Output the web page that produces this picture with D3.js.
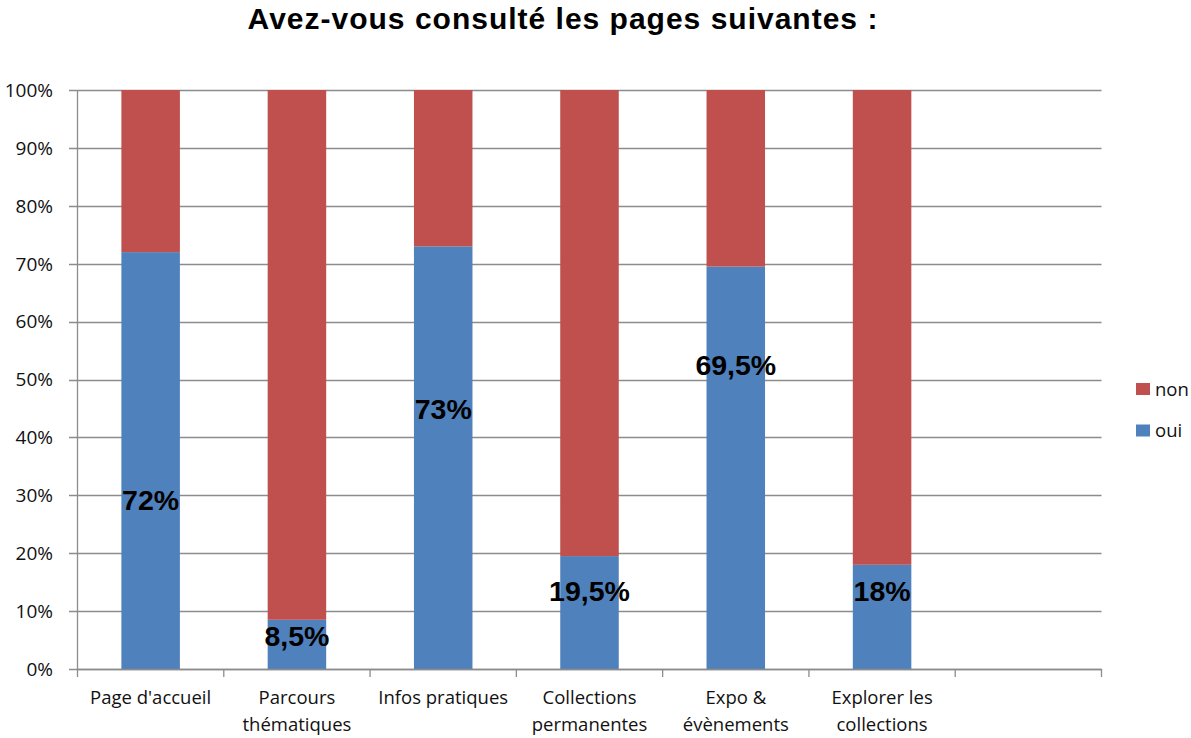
<!DOCTYPE html>
<html><head><meta charset="utf-8">
<script src="https://cdn.jsdelivr.net/npm/d3@7"></script>
<style>body{margin:0;background:#fff;} svg{display:block;}</style>
</head><body>
<svg id="chart" width="1191" height="738"></svg>
<script>
const title = "Avez-vous consulté les pages suivantes :";
const categories = [
  ["Page d'accueil"],
  ["Parcours", "thématiques"],
  ["Infos pratiques"],
  ["Collections", "permanentes"],
  ["Expo &", "évènements"],
  ["Explorer les", "collections"],
  [""]
];
const oui = [72, 8.5, 73, 19.5, 69.5, 18, null];
const non = oui.map(v => v == null ? null : 100 - v);
const labels = ["72%", "8,5%", "73%", "19,5%", "69,5%", "18%", null];
const labelAt = [29.2, 5.7, 45, 13.6, 52.5, 13.6, null]; // label centre, in % units
const yTicks = [0,10,20,30,40,50,60,70,80,90,100];
const seriesNames = ["non", "oui"];
const colors = {oui: "#4F81BD", non: "#C0504D"};

const svg = d3.select("#chart");
const pL = 77.5, pR = 1101.5, pT = 90, pB = 669;
const x = d3.scaleBand().domain(d3.range(categories.length)).range([pL, pR]).paddingInner(0).paddingOuter(0);
const y = d3.scaleLinear().domain([0, 100]).range([pB, pT]);
const barW = x.bandwidth() * 0.4;
const axisFont = "Open Sans, sans-serif";

// title
svg.append("text").attr("x", 563).attr("y", 29).attr("text-anchor", "middle")
  .style("font-family", "Liberation Sans, Arial, sans-serif").style("font-weight", "bold").style("font-size", "30px")
  .style("letter-spacing", "1px")
  .text(title);

// gridlines
svg.append("g").selectAll("line").data(yTicks).join("line")
  .attr("x1", 69).attr("x2", pR).attr("y1", d => Math.round(y(d)) + 0.5).attr("y2", d => Math.round(y(d)) + 0.5)
  .attr("stroke", "#8c8c8c").attr("stroke-width", 1.3);

// y labels
svg.append("g").selectAll("text").data(yTicks).join("text")
  .attr("x", 53).attr("y", d => y(d)).attr("dy", "0.36em").attr("text-anchor", "end")
  .style("font-family", axisFont).style("font-size", "19px").attr("fill", "#111")
  .text(d => d + "%");

// stacked data
const data = categories.map((c, i) => ({i, oui: oui[i], non: non[i]})).filter(d => d.oui != null);
const stack = d3.stack().keys(["oui", "non"])(data);
svg.append("g").selectAll("g").data(stack).join("g").attr("fill", s => colors[s.key])
  .selectAll("rect").data(s => s).join("rect")
  .attr("x", d => x(d.data.i) + (x.bandwidth() - barW) / 2)
  .attr("width", barW)
  .attr("y", d => y(d[1]))
  .attr("height", d => y(d[0]) - y(d[1]));

// y axis line
svg.append("line").attr("x1", pL).attr("x2", pL).attr("y1", pT).attr("y2", pB)
  .attr("stroke", "#8c8c8c").attr("stroke-width", 1.3);
// x axis line + ticks
svg.append("line").attr("x1", pL).attr("x2", pR).attr("y1", pB + 0.5).attr("y2", pB + 0.5)
  .attr("stroke", "#8c8c8c").attr("stroke-width", 1.3);
const xTickPos = d3.range(categories.length + 1).map(i => i < categories.length ? x(i) : pR);
svg.append("g").selectAll("line").data(xTickPos).join("line")
  .attr("x1", d => d).attr("x2", d => d).attr("y1", pB).attr("y2", pB + 8)
  .attr("stroke", "#8c8c8c").attr("stroke-width", 1.3);

// category labels
const cg = svg.append("g").selectAll("text").data(categories).join("text")
  .attr("text-anchor", "middle")
  .style("font-family", axisFont).style("font-size", "18.5px").attr("fill", "#111");
cg.each(function(lines, i) {
  const t = d3.select(this);
  lines.forEach((ln, k) => t.append("tspan").attr("x", x(i) + x.bandwidth() / 2).attr("y", 704 + k * 27).text(ln));
});

// value labels
svg.append("g").selectAll("text").data(labels.map((l, i) => ({l, i})).filter(d => d.l)).join("text")
  .attr("x", d => x(d.i) + x.bandwidth() / 2).attr("y", d => y(labelAt[d.i])).attr("dy", "0.36em")
  .attr("text-anchor", "middle")
  .style("font-family", "Liberation Sans, Arial, sans-serif").style("font-weight", "bold").style("font-size", "28.5px")
  .attr("fill", "#000").text(d => d.l);

// legend
const lg = svg.append("g").selectAll("g").data(seriesNames).join("g")
  .attr("transform", (d, i) => `translate(1136,${389 + i * 41.5})`);
lg.append("rect").attr("x", 0).attr("y", -6).attr("width", 14).attr("height", 12).attr("fill", d => colors[d]);
lg.append("text").attr("x", 19).attr("y", 0).attr("dy", "0.36em")
  .style("font-family", axisFont).style("font-size", "18.5px").attr("fill", "#111").text(d => d);
</script>
</body></html>
